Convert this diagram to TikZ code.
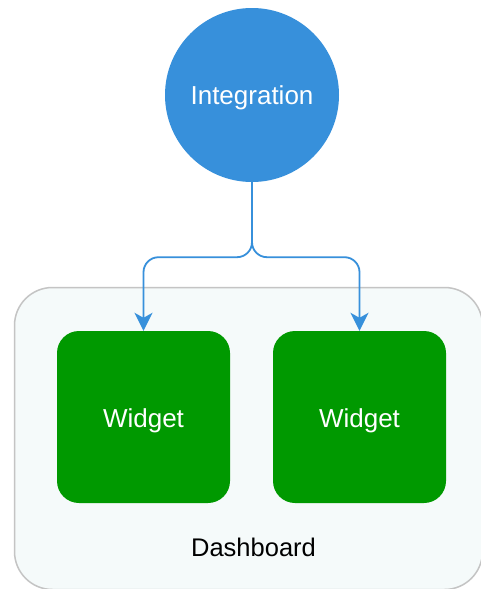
\documentclass[tikz,border=0pt]{standalone}
\usepackage{fontspec}
\setmainfont{Liberation Sans}
\usetikzlibrary{arrows.meta}
\definecolor{integblue}{HTML}{3790DB}
\definecolor{widgetgreen}{HTML}{009900}
\definecolor{panelfill}{HTML}{F5FAFA}
\definecolor{panelline}{HTML}{C4C4C4}
\tikzset{
  % text height/depth chosen so the baseline sits a little below the centre
  integcircle/.style={circle, fill=integblue, draw=none, minimum size=174pt, inner sep=0pt,
    text=white, font=\fontsize{26}{30}\selectfont, text height=18.6pt, text depth=0pt},
  widgetbox/.style={rectangle, rounded corners=22pt, fill=widgetgreen, draw=none,
    minimum width=173pt, minimum height=172pt, text=white, font=\fontsize{26}{30}\selectfont,
    text height=20pt, text depth=0pt},
  link/.style={draw=integblue, line width=1.8pt, rounded corners=15pt,
    -{Stealth[length=18pt, width=18pt, inset=5pt]}},
}
\begin{document}
\begin{tikzpicture}[x=1pt, y=1pt]
  \useasboundingbox (0,0) rectangle (481,-589);
  \fill[white] (0,0) rectangle (481,-589);
  \begin{scope}
    \clip (0,0) rectangle (481,-589);
    % dashboard panel, its right and bottom sides at the very edges
    \draw[fill=panelfill, draw=panelline, line width=1.5pt, rounded corners=38pt]
      (14.5,-287.5) rectangle (482.5,-589.5);
  \end{scope}
  \node[font=\fontsize{25.5}{30}\selectfont, anchor=base, inner sep=0pt] (dash) at (253.5,-556.5) {Dashboard};
  \node[integcircle] (integ) at (252,-95) {Integration};
  \node[widgetbox] (w1) at (143.5,-417) {Widget};
  \node[widgetbox] (w2) at (359.5,-417) {Widget};
  \draw[link] (integ.south) -- ++(0,-75) -| (w1.north);
  \draw[link] (integ.south) -- ++(0,-75) -| (w2.north);
\end{tikzpicture}
\end{document}
